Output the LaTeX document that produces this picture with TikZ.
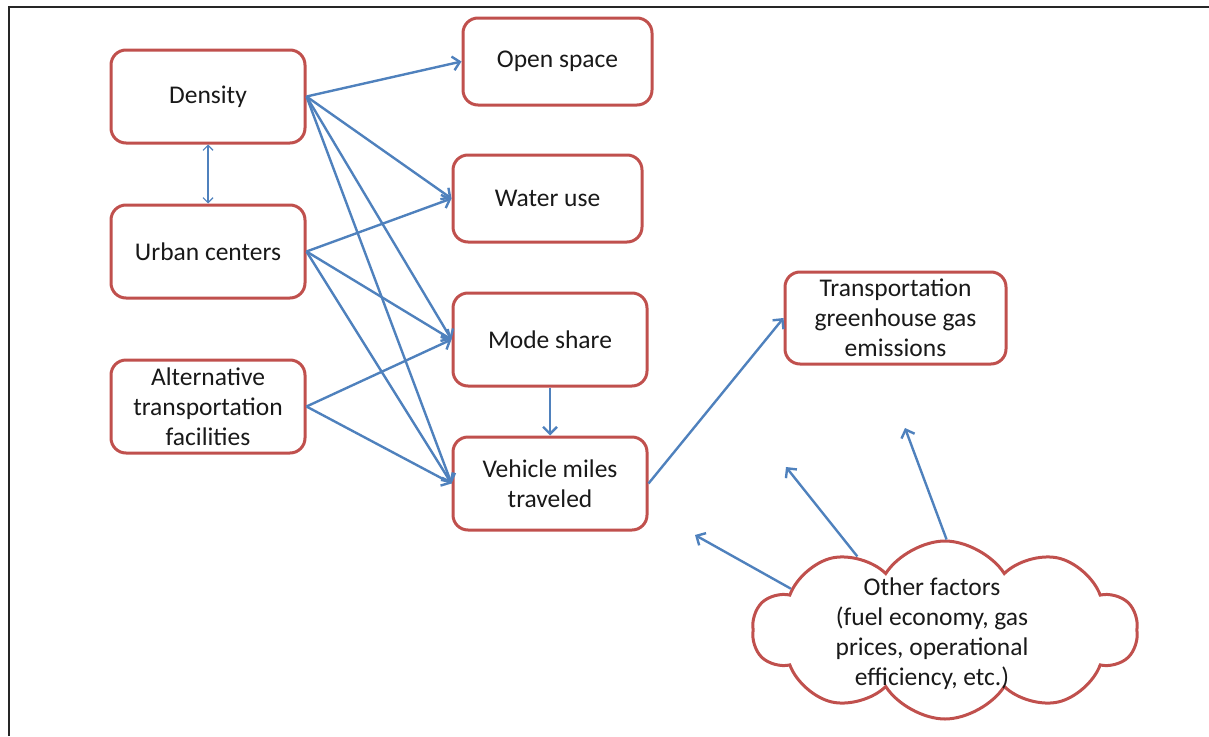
\documentclass[tikz,border=0pt]{standalone}
\usepackage{fontspec}
\setmainfont{Carlito}
\usetikzlibrary{arrows.meta,shapes.symbols}
\definecolor{boxred}{RGB}{192,80,77}
\definecolor{arrblue}{RGB}{79,129,189}
\definecolor{txt}{RGB}{25,25,25}
\begin{document}
\begin{tikzpicture}[x=1pt,y=-1pt,
  box/.style={draw=boxred,line width=3pt,rounded corners=15pt,fill=white,
    align=center,text=txt,inner sep=0pt,font=\fontsize{25.5}{30}\selectfont},
  conn/.style={draw=arrblue,line width=2.4pt,-{Straight Barb[length=7pt,width=14pt,line width=2.4pt]}},
  thinconn/.style={draw=arrblue,line width=1.2pt,{Straight Barb[length=5pt,width=10pt,line width=1.2pt]}-{Straight Barb[length=5pt,width=10pt,line width=1.2pt]}},
  frameline/.style={draw=black!85,line width=2.6pt}]
\useasboundingbox (0,0) rectangle (1209,736);
\draw[frameline] (9,736) -- (9,7) -- (1209,7);

\node[box,minimum width=194pt,minimum height=93pt] (dens) at (208,96.5) {Density};
\node[box,minimum width=194pt,minimum height=93pt] (urban) at (208,251.5) {Urban centers};
\node[box,minimum width=194pt,minimum height=93pt] (alt) at (208,406.5) {Alternative\\transportation\\facilities};
\node[box,minimum width=189pt,minimum height=87pt] (open) at (557.5,61.5) {Open space};
\node[box,minimum width=189pt,minimum height=87pt] (water) at (547.5,198.5) {Water use};
\node[box,minimum width=194pt,minimum height=93pt] (mode) at (550,339.5) {Mode share};
\node[box,minimum width=194pt,minimum height=93pt] (vmt) at (550,483.5) {Vehicle miles\\traveled};
\node[box,minimum width=221pt,minimum height=92pt] (tge) at (895.5,318) {Transportation\\greenhouse gas\\emissions};

\node[cloud,cloud puffs=10,cloud puff arc=115,cloud ignores aspect,draw=boxred,line width=3pt,
  minimum width=385pt,minimum height=178pt,inner sep=0pt] (cl) at (945,630) {};
\node[align=center,text=txt,font=\fontsize{25.5}{30}\selectfont] (cltext) at (932,634)
  {Other factors\\(fuel economy, gas\\prices, operational\\efficiency, etc.)};

\coordinate (c1) at (695,535);
\coordinate (c2) at (786,467);
\coordinate (c3) at (905,428);

\draw[thinconn] (dens.south) -- (urban.north);
\draw[conn] (dens.east) -- (open.west);
\draw[conn] (dens.east) -- (water.west);
\draw[conn] (dens.east) -- (mode.west);
\draw[conn] (dens.east) -- (vmt.west);
\draw[conn] (urban.east) -- (water.west);
\draw[conn] (urban.east) -- (mode.west);
\draw[conn] (urban.east) -- (vmt.west);
\draw[conn] (alt.east) -- (mode.west);
\draw[conn] (alt.east) -- (vmt.west);
\draw[conn] (mode.south) -- (vmt.north);
\draw[conn] (vmt.east) -- (tge.west);
\draw[conn] (cl.165) -- (c1);
\draw[conn] (cl.140) -- (c2);
\draw[conn] (cl.89) -- (c3);
\end{tikzpicture}
\end{document}
